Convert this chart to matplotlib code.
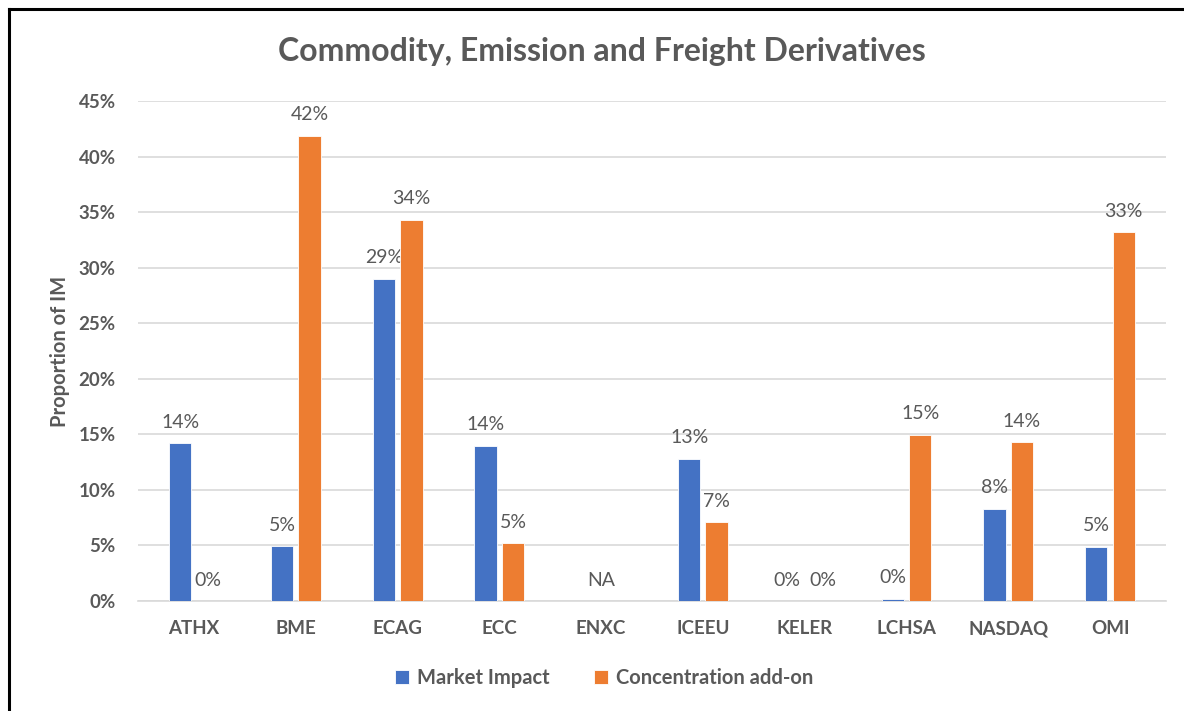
import numpy as np
import matplotlib
matplotlib.use('Agg')
import matplotlib.pyplot as plt
from matplotlib.lines import Line2D
from matplotlib.ticker import FuncFormatter

plt.rcParams['font.family'] = ['Lato', 'DejaVu Sans']

categories = ['ATHX', 'BME', 'ECAG', 'ECC', 'ENXC', 'ICEEU', 'KELER', 'LCHSA', 'NASDAQ', 'OMI']
market_impact = [14.2, 4.95, 29.0, 13.95, np.nan, 12.8, 0.0, 0.2, 8.3, 4.9]
concentration = [0.0, 41.85, 34.3, 5.2, np.nan, 7.1, 0.0, 14.95, 14.3, 33.2]
series_names = ['Market Impact', 'Concentration add-on']
colors = ['#4472C4', '#ED7D31']
grey = '#595959'

fig = plt.figure(figsize=(11.84, 7.11), dpi=100)
ax = fig.add_axes([0.1166, 0.1547, 0.8682, 0.7033])

x = np.arange(len(categories))
width = 0.22
offsets = [-0.135, 0.135]
# labels of two zero bars side by side get pushed apart, like Excel does
mi = np.array(market_impact)
ca = np.array(concentration)
both_zero = (mi == 0) & (ca == 0)

for k, (v, off, col, name) in enumerate(zip([mi, ca], offsets, colors, series_names)):
    ax.bar(x + off, np.nan_to_num(v), width, color=col, edgecolor='white', linewidth=0.6, label=name, zorder=3)
    for i, (xi, val) in enumerate(zip(x, v)):
        if np.isnan(val):
            continue
        dx = (-3 if k == 0 else 3) if both_zero[i] else 0
        ax.annotate(f'{val:.0f}%', (xi + off, val), xytext=(dx, 9), textcoords='offset points',
                    ha='center', va='bottom', fontsize=14, color=grey)

# no data for ENXC
na_idx = categories.index('ENXC')
ax.annotate('NA', (x[na_idx], 0), xytext=(0, 9), textcoords='offset points',
            ha='center', va='bottom', fontsize=14, color=grey)

ax.set_xlim(-0.55, len(categories) - 0.45)
ax.set_ylim(0, 45)
ax.set_yticks(np.arange(0, 46, 5))
ax.yaxis.set_major_formatter(FuncFormatter(lambda v, p: f'{v:.0f}%'))
ax.set_xticks(x)
ax.set_xticklabels(categories)
ax.tick_params(axis='both', length=0, labelsize=13.5, labelcolor=grey)
ax.tick_params(axis='x', pad=14)
ax.tick_params(axis='y', pad=16)
for lab in ax.get_xticklabels() + ax.get_yticklabels():
    lab.set_fontweight('bold')
ax.grid(axis='y', color='#D9D9D9', linewidth=1.2, zorder=0)
for s in ['top', 'right', 'left']:
    ax.spines[s].set_visible(False)
ax.spines['bottom'].set_color('#D9D9D9')
ax.spines['bottom'].set_linewidth(1.2)

ax.set_ylabel('Proportion of IM', fontsize=14.5, fontweight='bold', color=grey, labelpad=6)

fig.text(0.508, 0.928, 'Commodity, Emission and Freight Derivatives', ha='center', va='center',
         fontsize=23, fontweight='bold', color=grey)

leg = fig.legend(loc='center', bbox_to_anchor=(0.51, 0.046), ncol=2, frameon=False,
                 fontsize=14.5, handlelength=0.7, handleheight=0.7, handletextpad=0.4, columnspacing=2.2)
for t in leg.get_texts():
    t.set_color(grey)
    t.set_fontweight('bold')

# frame around the chart (top and left edges visible)
fig.add_artist(Line2D([0.0075, 1.0], [0.987, 0.987], transform=fig.transFigure, color='black', linewidth=2.2))
fig.add_artist(Line2D([0.0075, 0.0075], [0.0, 0.987], transform=fig.transFigure, color='black', linewidth=2.2))

fig.savefig('out.png', dpi=100)
